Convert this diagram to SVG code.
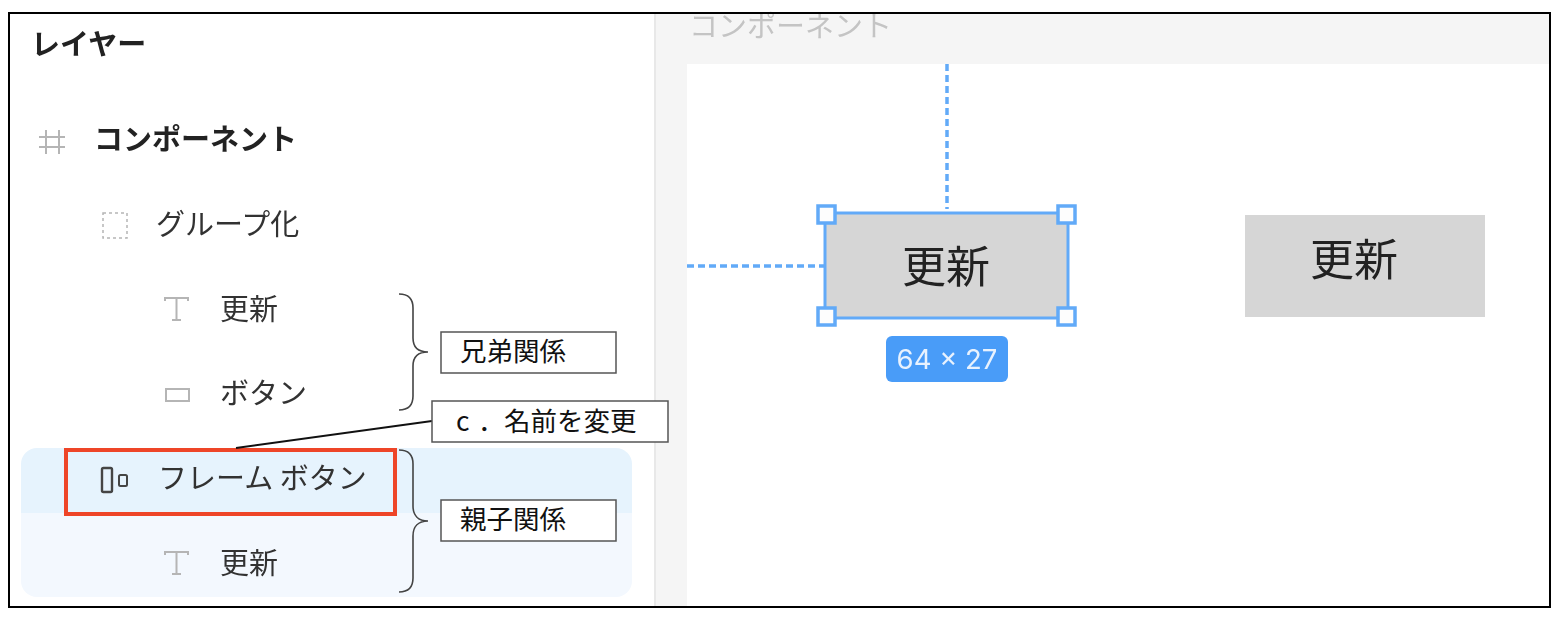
<svg xmlns="http://www.w3.org/2000/svg" width="1560" height="620" viewBox="0 0 1560 620">
<defs><filter id="soft" x="-5%" y="-5%" width="110%" height="110%"><feGaussianBlur stdDeviation="0.7"/></filter></defs>
<style>
text{font-family:"Noto Sans CJK JP","Liberation Sans",sans-serif}
.l{font-size:29px;fill:#333}
.b{font-weight:700;fill:#222}
.c{font-size:26.500px;fill:#111}
.box{fill:#fff;stroke:#555;stroke-width:1.500}
.br{fill:none;stroke:#444;stroke-width:1.600}
.ic{fill:none;stroke:#b5b5b5;stroke-width:2}
.h{fill:#fdfdfd;stroke:#62aaf8;stroke-width:3.500}
.g{fill:#d6d6d6}
.big{font-size:44px;fill:#222}
</style>
<rect width="1560" height="620" fill="#fff"/>
<g id="canvas">
<rect x="655" y="13" width="894" height="594" fill="#f5f5f5"/>
<rect x="654" y="13" width="2" height="594" fill="#e8e8e8"/>
<rect x="687" y="64" width="862" height="543" fill="#fff"/>
<text filter="url(#soft)" x="689" y="37" font-size="29" fill="#c4c4c4">コンポーネント</text>
</g>
<g id="selection-band">
<path d="M21 513V464a16 16 0 0 1 16-16H616a16 16 0 0 1 16 16V513Z" fill="#e6f3fd"/>
<path d="M21 513H632V581a16 16 0 0 1-16 16H37a16 16 0 0 1-16-16Z" fill="#f3f8fe"/>
</g>
<g id="layers-title" filter="url(#soft)"><text class="l b" x="31" y="55">レイヤー</text></g>
<g id="layer-component" filter="url(#soft)">
<path class="ic" d="M46 130V154M59 130V154M39 137H65M39 147H65"/>
<text class="l b" x="94" y="150">コンポーネント</text>
</g>
<g id="layer-group" filter="url(#soft)">
<rect x="103" y="213" width="24" height="25" fill="none" stroke="#b5b5b5" stroke-width="1.500" stroke-dasharray="3 3"/>
<text class="l" x="156" y="235">グループ化</text>
</g>
<g id="layer-text-1" filter="url(#soft)">
<path class="ic" d="M165 301V298H188V301M176.500 298V320M172 320H181"/>
<text class="l" x="220" y="320">更新</text>
</g>
<g id="layer-button" filter="url(#soft)">
<rect class="ic" x="166" y="389" width="23" height="12"/>
<text class="l" x="220" y="404">ボタン</text>
</g>
<g id="layer-frame">
<g filter="url(#soft)">
<rect x="102" y="468" width="10" height="24" rx="1.500" fill="none" stroke="#444" stroke-width="2.400"/>
<rect x="119" y="475" width="8" height="11" rx="1.500" fill="none" stroke="#444" stroke-width="2"/>
<text class="l" x="158" y="489">フレーム ボタン</text>
</g>
<rect x="66" y="450" width="329" height="64" fill="none" stroke="#ee4528" stroke-width="4"/>
</g>
<g id="layer-text-2" filter="url(#soft)">
<path class="ic" d="M165 555V552H188V555M176.500 552V574M172 574H181"/>
<text class="l" x="220" y="574">更新</text>
</g>
<g id="connectors">
<path class="br" d="M399 294C408 294 413 298 413 308V338C413 347 418 352 428 352C418 352 413 357 413 366V396C413 406 408 410 399 410"/>
<path class="br" d="M399 450C408 450 413 454 413 464V506C413 515 418 521 428 521C418 521 413 527 413 536V578C413 588 408 592 399 592"/>
<line x1="236" y1="448" x2="432" y2="421" stroke="#111" stroke-width="1.800"/>
</g>
<g id="label-sibling"><rect class="box" x="441" y="332" width="175" height="41"/><text class="c" x="460" y="361">兄弟関係</text></g>
<g id="label-rename"><rect class="box" x="432" y="401" width="236" height="41"/><text class="c" x="456" y="431"><tspan>c</tspan><tspan x="478">．</tspan><tspan x="504">名前を変更</tspan></text></g>
<g id="label-parent"><rect class="box" x="441" y="500" width="175" height="41"/><text class="c" x="460" y="529">親子関係</text></g>
<g id="guides" filter="url(#soft)" stroke="#62aaf8" stroke-width="3.500" stroke-dasharray="7 4" fill="none">
<line x1="947" y1="64" x2="947" y2="209"/>
<line x1="687" y1="266" x2="825" y2="266"/>
</g>
<g id="selected-button" filter="url(#soft)">
<rect class="g" x="825" y="213" width="243" height="105" stroke="#62aaf8" stroke-width="3"/>
<text class="big" x="946" y="283" text-anchor="middle">更新</text>
<rect class="h" x="818" y="206" width="17" height="17"/>
<rect class="h" x="1058" y="206" width="17" height="17"/>
<rect class="h" x="818" y="308" width="17" height="17"/>
<rect class="h" x="1058" y="308" width="17" height="17"/>
</g>
<g id="size-badge" filter="url(#soft)">
<rect x="886" y="336" width="122" height="46" rx="6" fill="#4a9cf8"/>
<text x="947" y="369" text-anchor="middle" font-size="27.500" fill="#e8f2fe" style="font-family:Inter,'Liberation Sans',sans-serif">64 × 27</text>
</g>
<g id="plain-button" filter="url(#soft)">
<rect class="g" x="1245" y="215" width="240" height="102"/>
<text class="big" x="1354" y="276" text-anchor="middle">更新</text>
</g>
<rect id="frame" x="9" y="13" width="1541" height="594" fill="none" stroke="#000" stroke-width="2"/>
</svg>
